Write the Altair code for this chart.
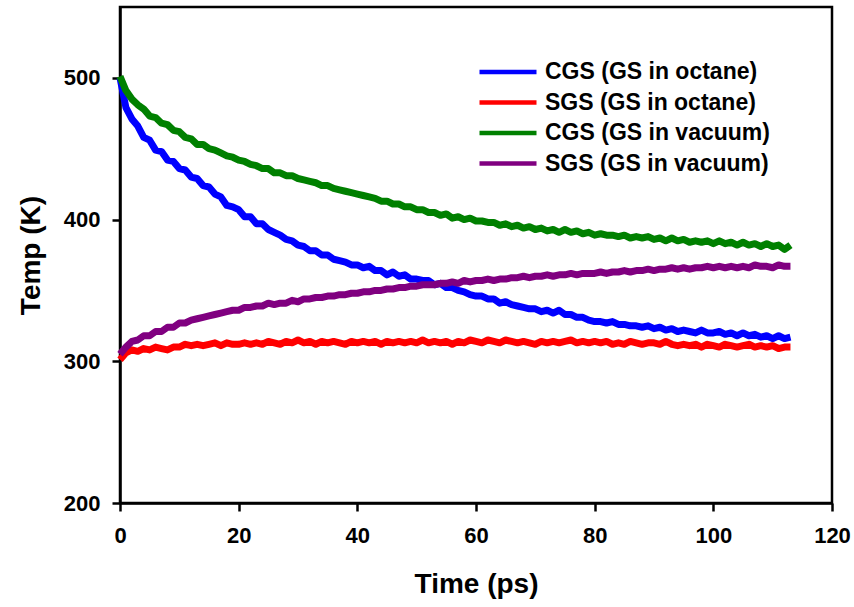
import altair as alt
import pandas as pd

time_ps = list(range(114))

cgs_octane = [500, 479, 471, 466, 458, 456, 449, 448, 442, 441,
              436, 435, 430, 429, 424, 423, 418, 416, 410, 409,
              407, 402, 402, 397, 397, 393, 391, 389, 386, 385,
              382, 381, 378, 378, 375, 375, 372, 371, 370, 368,
              368, 366, 367, 364, 364, 361, 363, 360, 361, 358,
              358, 357, 357, 354, 355, 352, 352, 350, 349, 347,
              346, 346, 344, 344, 341, 342, 340, 339, 338, 337,
              337, 335, 336, 334, 336, 333, 333, 331, 331, 329,
              328, 328, 327, 328, 326, 326, 325, 325, 324, 325,
              323, 324, 322, 323, 321, 322, 321, 320, 322, 320,
              320, 321, 319, 320, 318, 320, 318, 319, 317, 318,
              316, 318, 316, 317]

sgs_octane = [301, 306, 308, 307, 309, 308, 310, 309, 308, 310,
              310, 312, 311, 312, 311, 312, 313, 311, 313, 312,
              312, 313, 312, 313, 312, 314, 313, 312, 314, 313,
              315, 313, 314, 312, 314, 313, 314, 313, 312, 314,
              313, 314, 313, 314, 312, 314, 313, 314, 313, 314,
              313, 315, 313, 314, 313, 314, 312, 314, 313, 315,
              314, 313, 315, 314, 313, 315, 314, 313, 314, 313,
              312, 314, 313, 314, 313, 314, 315, 313, 314, 313,
              314, 313, 314, 312, 313, 312, 314, 313, 312, 313,
              313, 312, 314, 312, 311, 312, 311, 312, 310, 312,
              311, 310, 312, 311, 310, 311, 312, 310, 311, 310,
              311, 309, 310, 310]

cgs_vacuum = [501, 491, 485, 481, 478, 473, 472, 468, 467, 463,
              462, 458, 457, 453, 453, 450, 449, 447, 445, 444,
              442, 441, 439, 438, 436, 436, 433, 433, 431, 431,
              429, 428, 427, 426, 424, 424, 422, 421, 420, 419,
              418, 417, 416, 415, 413, 413, 411, 411, 409, 409,
              407, 407, 405, 405, 403, 404, 401, 402, 400, 401,
              399, 399, 398, 398, 396, 397, 395, 396, 394, 395,
              393, 394, 392, 393, 391, 393, 391, 392, 390, 391,
              389, 390, 389, 389, 388, 389, 387, 388, 387, 388,
              386, 387, 385, 387, 385, 386, 384, 385, 384, 385,
              383, 385, 383, 384, 382, 384, 382, 383, 381, 383,
              381, 382, 379, 382]

sgs_vacuum = [305, 310, 314, 315, 318, 318, 321, 321, 324, 324,
              327, 327, 329, 330, 331, 332, 333, 334, 335, 336,
              336, 338, 338, 339, 339, 341, 340, 341, 341, 343,
              342, 344, 344, 345, 345, 346, 346, 347, 347, 348,
              348, 349, 349, 350, 350, 351, 351, 352, 352, 353,
              353, 354, 354, 354, 355, 355, 356, 355, 357, 356,
              357, 357, 358, 357, 358, 358, 359, 359, 360, 359,
              360, 360, 361, 360, 361, 361, 362, 361, 362, 362,
              362, 363, 362, 363, 363, 364, 363, 364, 364, 365,
              364, 365, 365, 366, 365, 366, 365, 366, 366, 367,
              366, 367, 366, 367, 366, 367, 366, 368, 367, 367,
              366, 368, 367, 367]

series_names = ["CGS (GS in octane)", "SGS (GS in octane)",
                "CGS (GS in vacuum)", "SGS (GS in vacuum)"]
series_colors = ["#0000FF", "#FF0000", "#008000", "#800080"]
x_ticks = [0, 20, 40, 60, 80, 100, 120]
y_ticks = [200, 300, 400, 500]

rows = []
for name, vals in zip(series_names, [cgs_octane, sgs_octane, cgs_vacuum, sgs_vacuum]):
    for t, v in zip(time_ps, vals):
        rows.append({"Time": t, "Temp": v, "Series": name})
df = pd.DataFrame(rows)

FONT = "Liberation Sans"

chart = alt.Chart(df).mark_line(strokeWidth=7, strokeJoin="round").encode(
    x=alt.X("Time:Q",
            scale=alt.Scale(domain=[0, 120], nice=False, zero=False),
            axis=alt.Axis(values=x_ticks, title="Time (ps)", labelPadding=14,
                          titlePadding=24, format="d", labelFlush=False)),
    y=alt.Y("Temp:Q",
            scale=alt.Scale(domain=[200, 550], nice=False, zero=False),
            axis=alt.Axis(values=y_ticks, title="Temp (K)", labelPadding=12,
                          titlePadding=18, format="d", labelFlush=False)),
    color=alt.Color("Series:N",
                    scale=alt.Scale(domain=series_names, range=series_colors),
                    sort=series_names,
                    legend=alt.Legend(orient="none", legendX=374, legendY=51,
                                      title=None, symbolType="M-2.5,0H2.5",
                                      symbolSize=520, symbolStrokeWidth=4.5,
                                      labelFont=FONT, labelFontSize=23,
                                      labelFontWeight="bold", labelColor="black",
                                      labelLimit=0, labelOffset=23,
                                      rowPadding=4.5, padding=0)),
).properties(
    width=712, height=496,
    autosize=alt.AutoSizeParams(type="none"),
    padding={"left": 120, "top": 7, "right": 22, "bottom": 104},
    background="white",
).configure_view(
    stroke="black", strokeWidth=2.5
).configure_axis(
    grid=False, domainColor="black", domainWidth=2.5,
    tickColor="black", tickWidth=2.5, tickSize=8,
    labelFont=FONT, labelFontSize=22, labelFontWeight="bold", labelColor="black",
    titleFont=FONT, titleFontSize=28, titleFontWeight="bold", titleColor="black",
)

chart.save("out.html", embed_options={"renderer": "svg", "actions": False})
